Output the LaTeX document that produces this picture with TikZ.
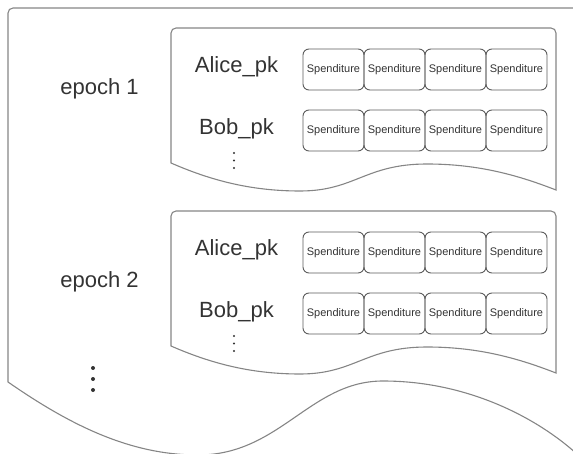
\documentclass[tikz,border=0pt]{standalone}
\usepackage{fontspec}
\setmainfont{Liberation Sans}
\definecolor{docgray}{HTML}{858585}
\definecolor{boxgray}{HTML}{5C5C5C}
\definecolor{txtgray}{HTML}{333333}
\begin{document}
\begin{tikzpicture}[x=1pt,y=-1pt,
	docline/.style={draw=docgray,line width=1.1pt},
	spend/.style={draw=boxgray,line width=0.9pt,rounded corners=6pt,minimum width=61pt,minimum height=41pt,inner sep=0pt,text=txtgray,font=\fontsize{11}{13}\selectfont},
	keylabel/.style={text=txtgray,anchor=base,font=\fontsize{22}{26}\selectfont}]
	\useasboundingbox (0,0) rectangle (573,454);
	\clip (0,0) rectangle (573,454);
	% outer document
	\draw[docline] (8,382) [rounded corners=5pt] -- (8,8) -- (578,8) [sharp corners] -- (578,455) .. controls (540,420) and (470,381) .. (383,381) .. controls (310,381) and (280,455) .. (198,455) .. controls (130,455) and (70,425) .. (8,382) -- cycle;
	\foreach \d in {368,379,390}
		\fill[txtgray] (93,\d) circle (2pt);
	% epochs
	\foreach \e/\T/\L in {1/28/95,2/211/288}{
		\draw[docline] (171,\T+135) [rounded corners=5pt] -- (171,\T) -- (556,\T) [sharp corners] -- (556,\T+162) .. controls (520,\T+148) and (480,\T+136) .. (427,\T+136) .. controls (365,\T+136) and (355,\T+163) .. (300,\T+163) .. controls (250,\T+163) and (210,\T+152) .. (171,\T+135) -- cycle;
		\node[keylabel] (epoch\e) at (99.5,\L) {epoch \e};
		\node[keylabel] (alice\e) at (236.5,\T+45) {Alice\_pk};
		\node[keylabel] (bob\e) at (236.5,\T+107) {Bob\_pk};
		% spenditures
		\foreach \i in {1,...,4}{
			\node[spend] (sa\e\i) at (272.5+61*\i,\T+41.5) {Spenditure};
			\node[spend] (sb\e\i) at (272.5+61*\i,\T+102.5) {Spenditure};
		}
		\foreach \d in {0,7.5,15}
			\fill[txtgray] (234,\T+125+\d) circle (1.2pt);
	}
\end{tikzpicture}
\end{document}
